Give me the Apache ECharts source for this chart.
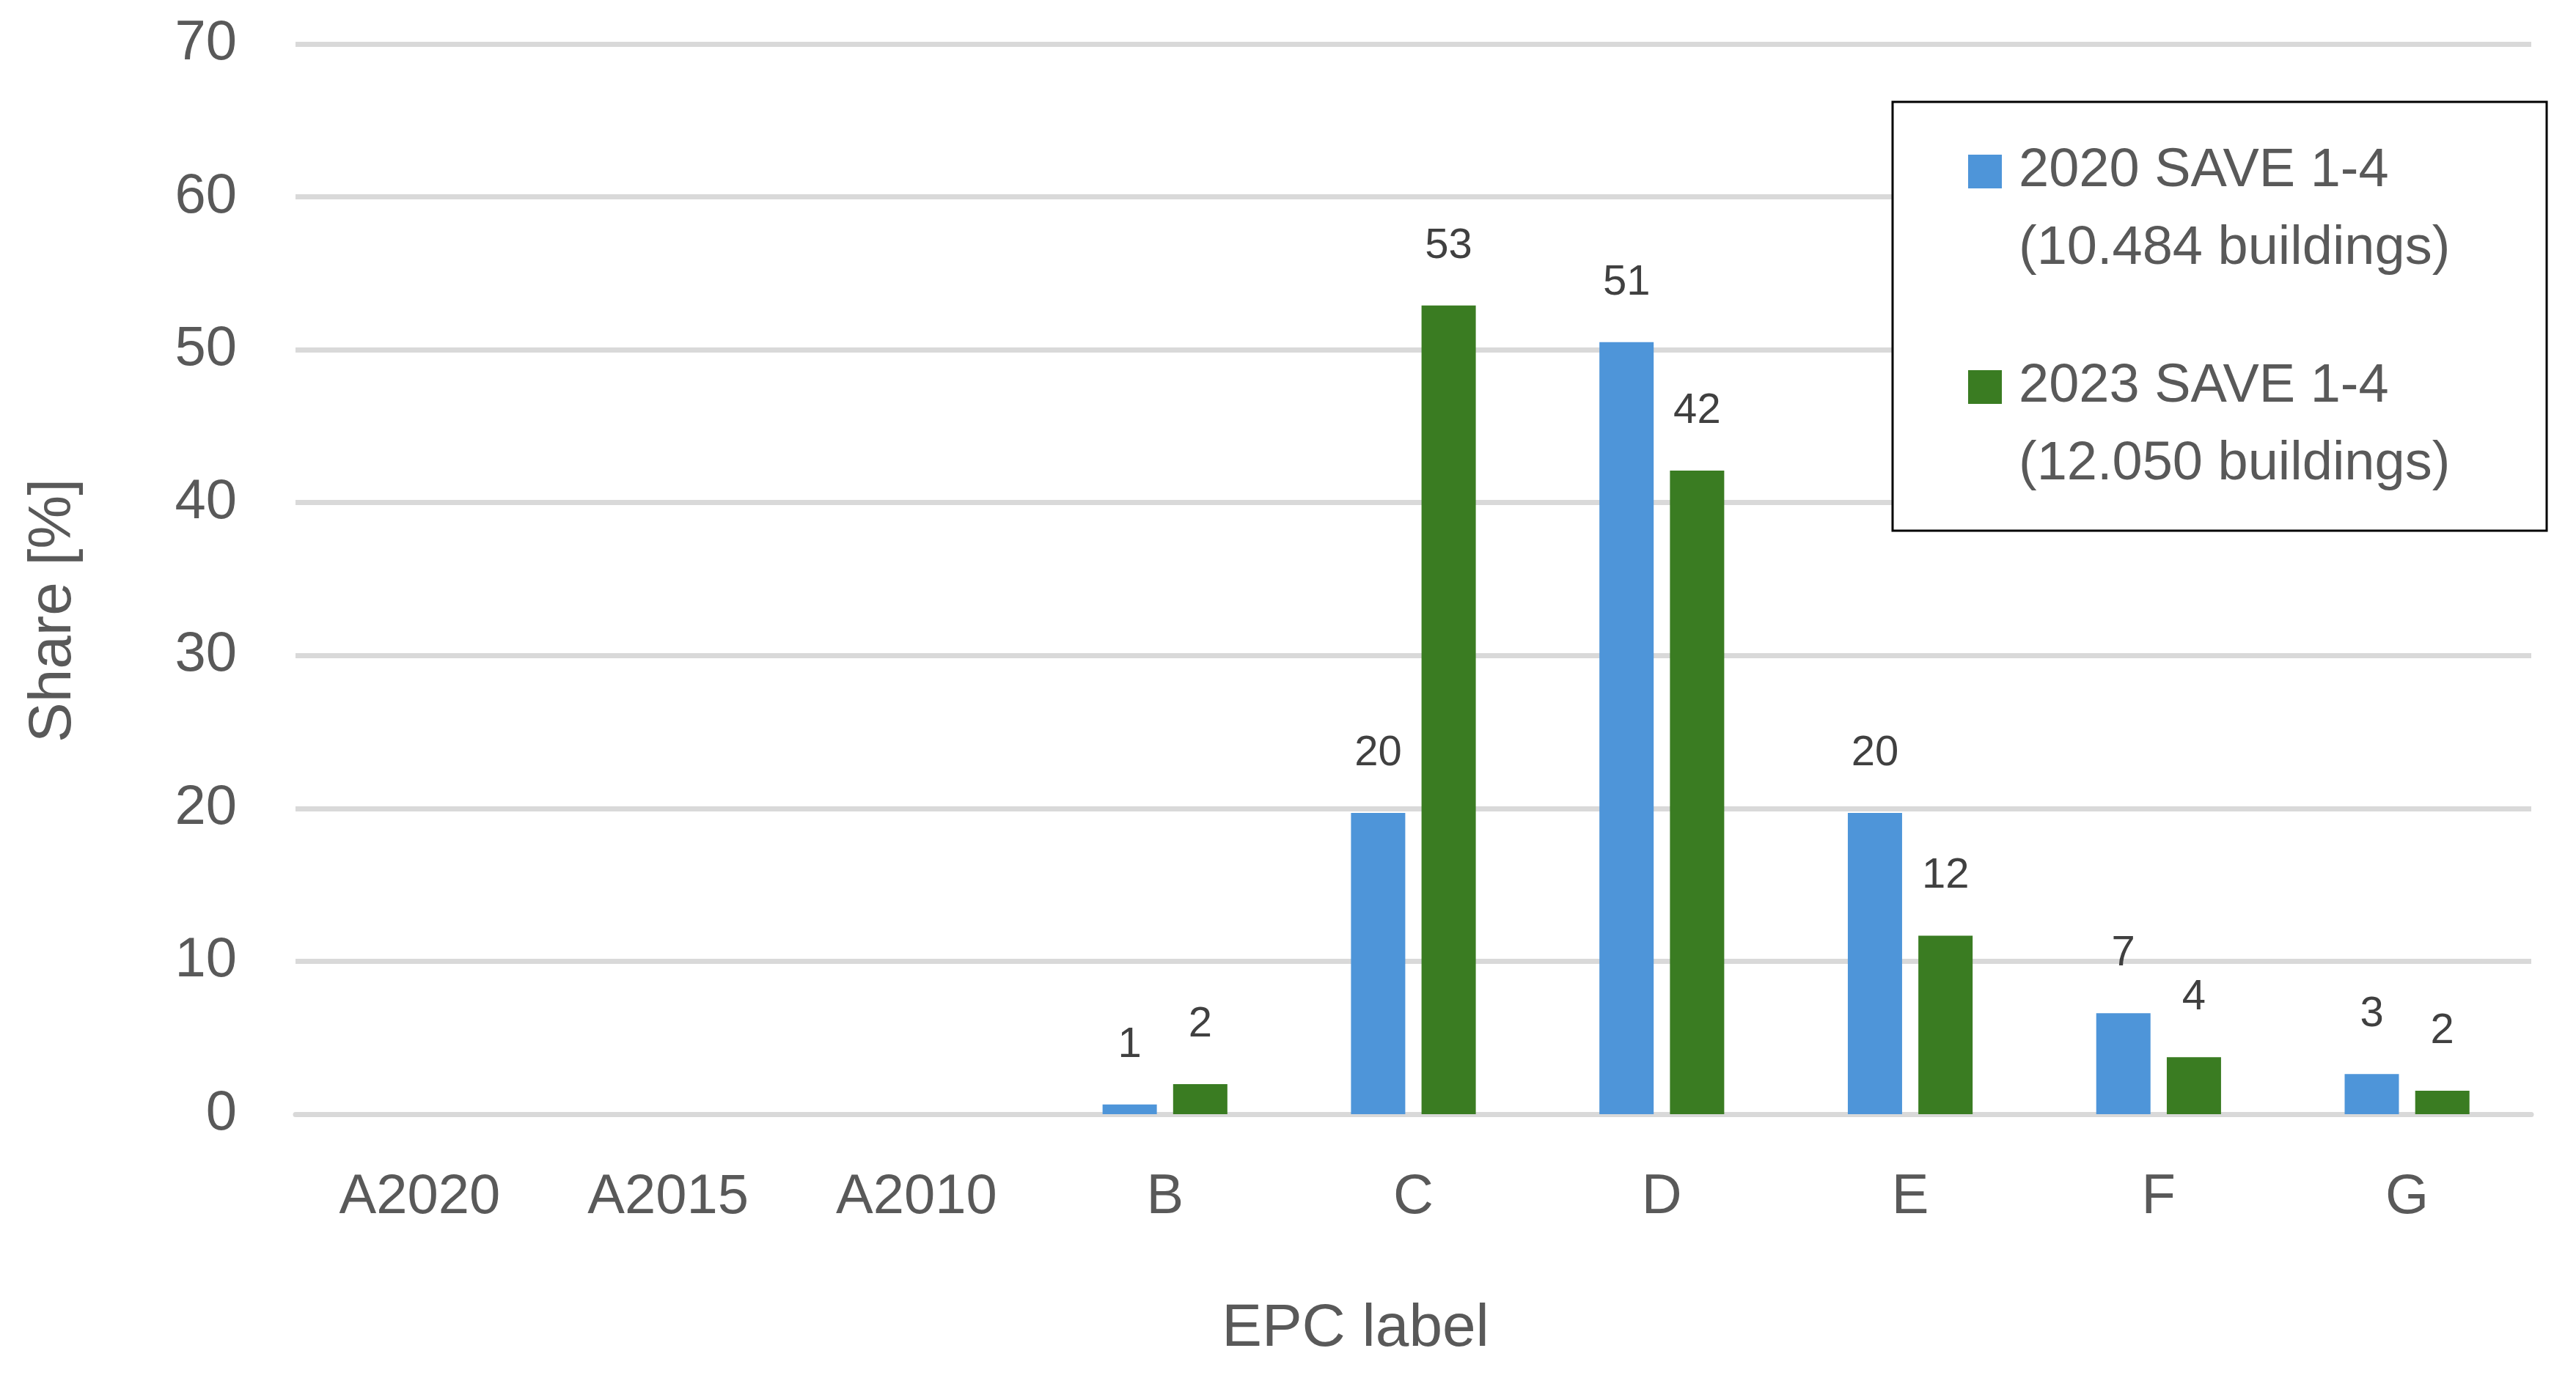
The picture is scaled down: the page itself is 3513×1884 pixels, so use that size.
<!DOCTYPE html>
<html>
<head>
<meta charset="utf-8">
<script src="https://cdn.jsdelivr.net/npm/echarts@6/dist/echarts.min.js"></script>
<style>
html,body{margin:0;padding:0;background:#fff;}
#chart{width:3513px;height:1884px;}
</style>
</head>
<body>
<div id="chart"></div>
<script>
// ---- data ----
const categories = ['A2020', 'A2015', 'A2010', 'B', 'C', 'D', 'E', 'F', 'G'];
const series2020Name = '2020 SAVE 1-4\n(10.484 buildings)';
const series2023Name = '2023 SAVE 1-4\n(12.050 buildings)';
const values2020 = ['-', '-', '-', 0.64, 19.7, 50.5, 19.7, 6.6, 2.63];
const values2023 = ['-', '-', '-', 1.96, 52.9, 42.1, 11.68, 3.73, 1.53];
const yTicks = { min: 0, max: 70, interval: 10 };
const xAxisTitle = 'EPC label';
const yAxisTitle = 'Share [%]';

const FONT = '"Liberation Sans", Arial, sans-serif';
const chart = echarts.init(document.getElementById('chart'));

const labelStyle = {
  show: true,
  position: 'top',
  distance: 52,
  fontFamily: FONT,
  fontSize: 58,
  color: '#404040',
  formatter: p => Math.round(p.value)
};

chart.setOption({
  animation: false,
  backgroundColor: '#ffffff',
  grid: { left: 403, right: 61, top: 60, bottom: 364, containLabel: false },
  xAxis: {
    type: 'category',
    data: categories,
    name: xAxisTitle,
    nameLocation: 'middle',
    nameGap: 252,
    nameTextStyle: { fontFamily: FONT, fontSize: 82, color: '#595959', padding: [0, 158, 0, 0] },
    axisLine: { show: true, lineStyle: { color: '#d9d9d9', width: 7 } },
    axisTick: { show: false },
    axisLabel: { fontFamily: FONT, fontSize: 76, color: '#595959', margin: 76 },
    splitLine: { show: false }
  },
  yAxis: {
    type: 'value',
    min: yTicks.min,
    max: yTicks.max,
    interval: yTicks.interval,
    name: yAxisTitle,
    nameLocation: 'middle',
    nameRotate: 90,
    nameGap: 289,
    nameTextStyle: { fontFamily: FONT, fontSize: 82, color: '#595959', padding: [0, 86, 0, 0] },
    axisLine: { show: false },
    axisTick: { show: false },
    axisLabel: { fontFamily: FONT, fontSize: 76, color: '#595959', margin: 80 },
    splitLine: { show: true, lineStyle: { color: '#d9d9d9', width: 7 } }
  },
  legend: {
    orient: 'vertical',
    left: 2684,
    top: 75,
    padding: 0,
    z: 10,
    itemWidth: 46,
    itemHeight: 46,
    itemGap: -24,
    icon: 'rect',
    formatter: name => '{e| }\n' + name.split('\n').map(s => '{t|' + s + '}').join('\n'),
    textStyle: {
      fontFamily: FONT, fontSize: 74, lineHeight: 106, color: '#595959', padding: [0, 0, 0, 18],
      rich: {
        e: { fontFamily: FONT, fontSize: 74, lineHeight: 106, color: '#595959' },
        t: { fontFamily: FONT, fontSize: 74, lineHeight: 106, color: '#595959' }
      }
    },
    data: [series2020Name, series2023Name]
  },
  graphic: [{
    type: 'rect',
    z: 5,
    shape: { x: 2581, y: 139, width: 892, height: 585 },
    style: { fill: '#ffffff', stroke: '#000000', lineWidth: 3 }
  }],
  series: [
    {
      name: series2020Name,
      type: 'bar',
      data: values2020,
      barWidth: 74,
      barGap: '30%',
      itemStyle: { color: '#4E95D9' },
      label: labelStyle
    },
    {
      name: series2023Name,
      type: 'bar',
      data: values2023,
      barWidth: 74,
      barGap: '30%',
      itemStyle: { color: '#3A7C22' },
      label: labelStyle
    }
  ]
});
</script>
</body>
</html>
